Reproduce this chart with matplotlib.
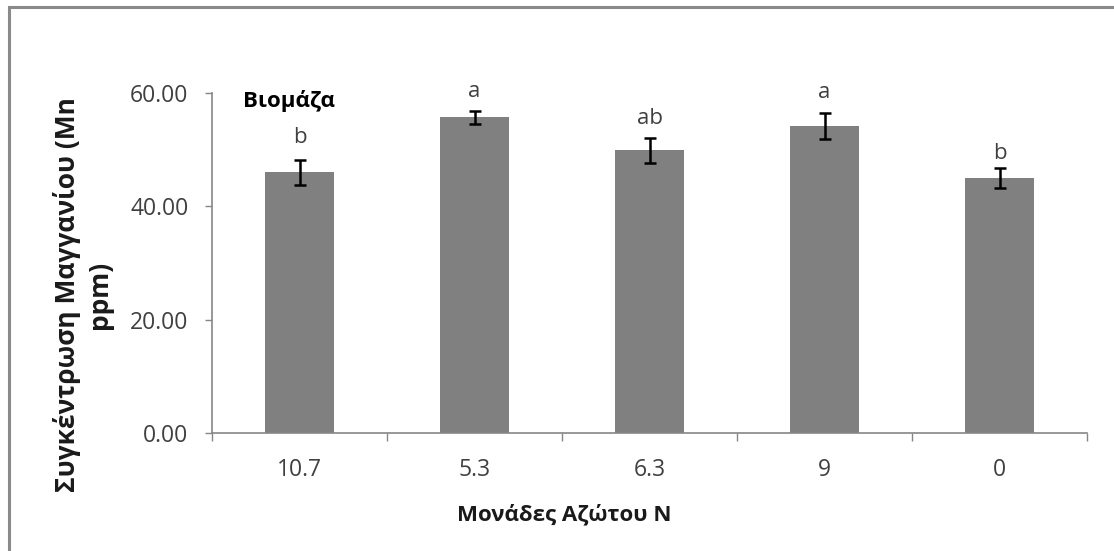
import matplotlib
matplotlib.use("Agg")
import matplotlib.pyplot as plt
from matplotlib.patches import Rectangle
import numpy as np

categories = ["10.7", "5.3", "6.3", "9", "0"]
values = [46.0, 55.7, 49.9, 54.2, 45.0]
errors = [2.15, 1.1, 2.2, 2.35, 1.8]
letters = ["b", "a", "ab", "a", "b"]
yticks = [0, 20, 40, 60]

W, H = 1114, 551
plt.rcParams['font.family'] = ['Open Sans', 'DejaVu Sans']
fig = plt.figure(figsize=(W / 100, H / 100), dpi=100)

ax_l, ax_r, ax_t, ax_b = 212, 1087, 93, 433
ax = fig.add_axes([ax_l / W, 1 - ax_b / H, (ax_r - ax_l) / W, (ax_b - ax_t) / H])

x = np.arange(len(categories))
ax.bar(x, values, width=0.39, color="#808080", zorder=2)
ax.errorbar(x, values, yerr=errors, fmt="none", ecolor="black",
            elinewidth=1.8, capsize=4.5, capthick=1.8, zorder=3)

letter_offsets = [3.0, 2.5, 2.4, 2.55, 1.55]
for xi, v, e, lab, off in zip(x, values, errors, letters, letter_offsets):
    ax.text(xi, v + e + off, lab, ha="center", va="baseline", fontsize=16, color="#404040")

ax.text(-0.323, 58.6, "Βιομάζα", ha="left", va="center", fontsize=16,
        fontweight="bold", color="black")

ax.set_xlim(-0.5, len(categories) - 0.5)
ax.set_ylim(0, 60)
ax.set_yticks(yticks)
ax.set_yticklabels([f"{t:.2f}" for t in yticks], fontsize=16.5, color="#404040")
ax.set_xticks(x)
ax.set_xticklabels(categories, fontsize=16.5, color="#404040")
ax.set_xticks(np.arange(-0.5, len(categories), 1.0), minor=True)
ax.tick_params(axis="x", which="major", length=0, pad=18)
ax.tick_params(axis="x", which="minor", length=6, color="#868686", width=1, direction="out")
ax.tick_params(axis="y", length=5, color="#868686", width=1, direction="out", pad=12)

for s in ["top", "right"]:
    ax.spines[s].set_visible(False)
for s in ["left", "bottom"]:
    ax.spines[s].set_color("#868686")
    ax.spines[s].set_linewidth(1.2)

fig.text(564 / W, 1 - 515 / H, "Μονάδες Αζώτου Ν", ha="center", va="center",
         fontsize=16, fontweight="bold", color="#1a1a1a")
fig.text(83 / W, 1 - 295 / H, "Συγκέντρωση Μαγγανίου (Mn\nppm)", ha="center", va="center",
         rotation=90, fontsize=19, fontweight="bold", color="#1a1a1a",
         multialignment="center", linespacing=1.2)

fig.patches.append(Rectangle((9 / W, -0.1), 1.2, 1 - 7 / H + 0.1, transform=fig.transFigure,
                             fill=False, edgecolor="#8a8a8a", linewidth=2.2))

fig.savefig("out.png", dpi=100)
